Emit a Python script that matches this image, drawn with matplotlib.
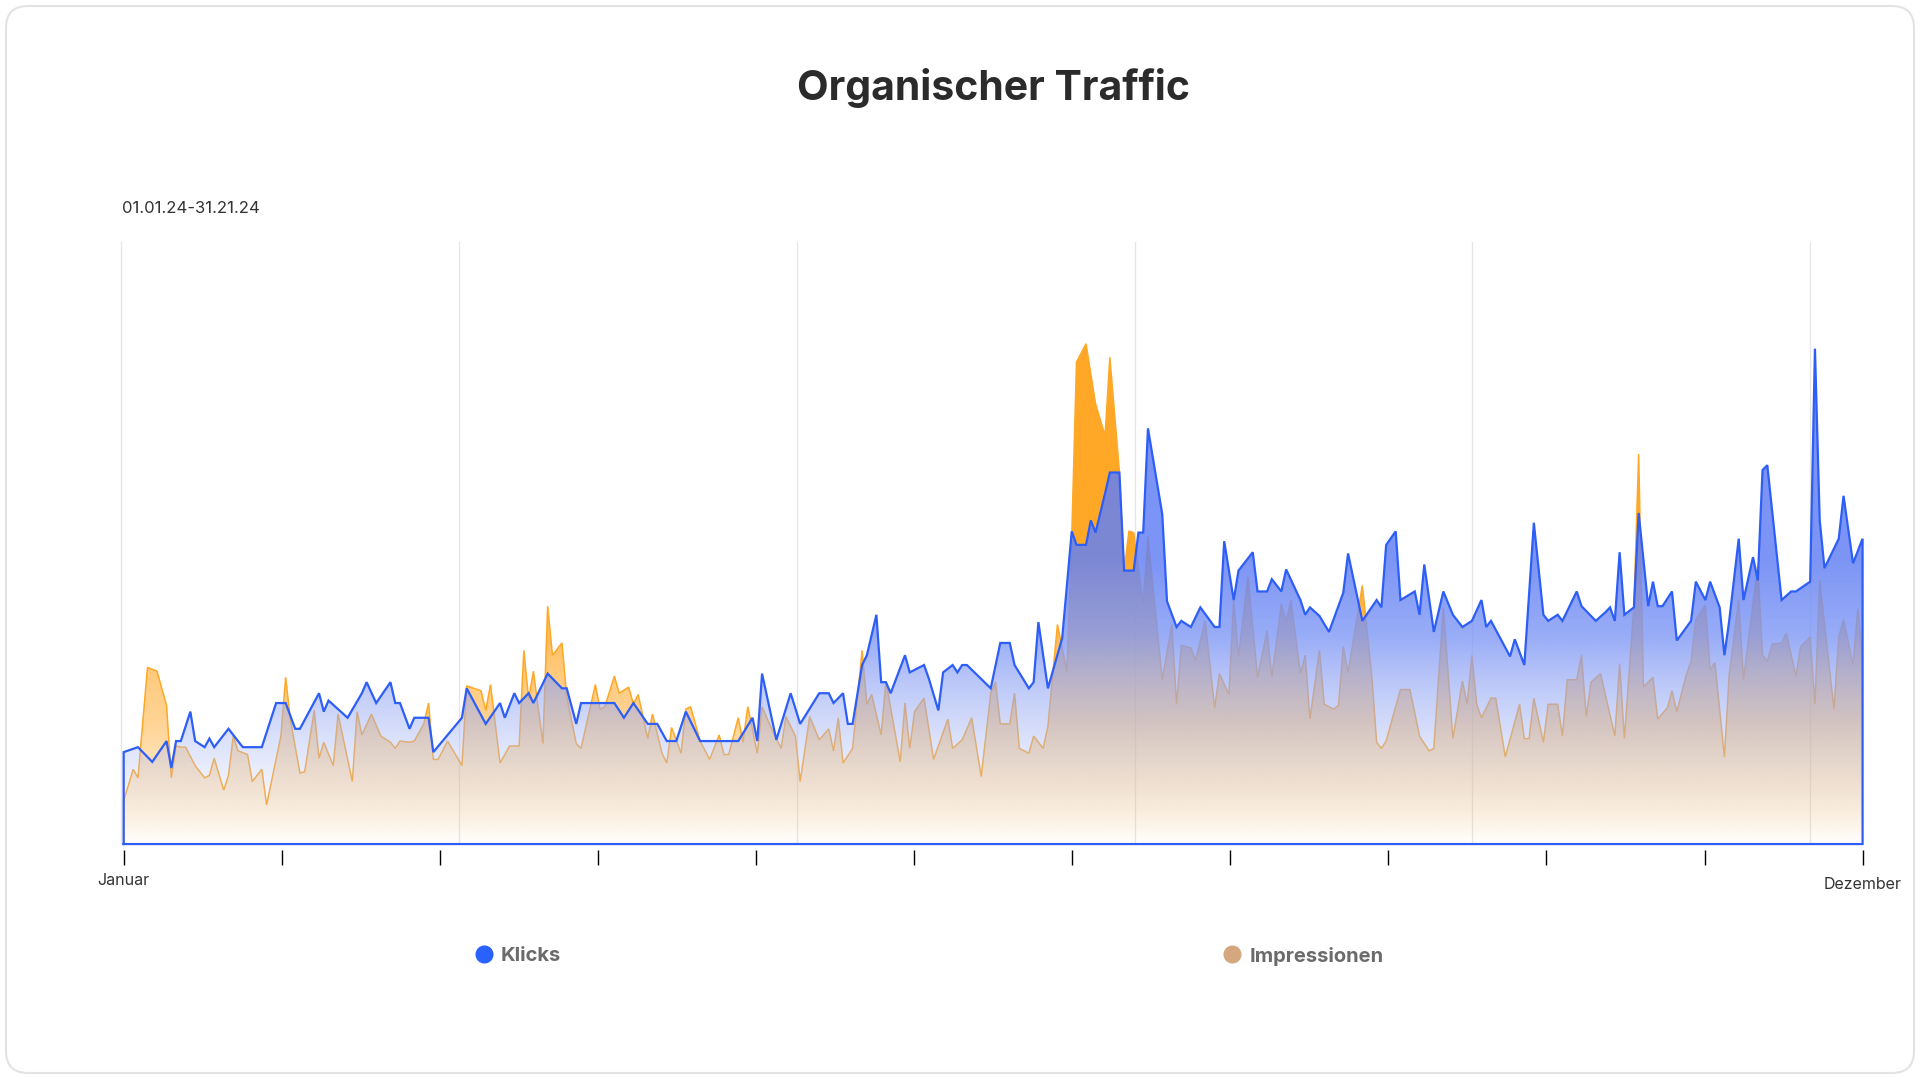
import numpy as np
import matplotlib.pyplot as plt
from matplotlib.patches import FancyBboxPatch
from matplotlib.lines import Line2D
from matplotlib.transforms import ScaledTranslation

plt.rcParams['font.family'] = ['Inter', 'DejaVu Sans']

# daily values (day of year, vertices)
klicks_days = [0, 3, 6, 9, 10, 11, 12, 14, 15, 17, 18, 19, 22, 25, 29, 32, 34, 36, 37, 41, 42, 43, 45, 47,
               50, 51, 53, 56, 57, 58, 60, 61, 64, 65, 71, 72, 76, 79, 80, 82, 83, 85, 86, 89, 92, 93,
               95, 96, 103, 105, 107, 110, 112, 114, 116, 118, 121, 129, 132, 133, 134, 137, 140, 142,
               146, 148, 149, 151, 152, 153, 155, 156, 158, 159, 160, 161, 164, 165, 168, 169, 171, 172,
               174, 175, 176, 177, 182, 184, 186, 187, 190, 191, 192, 194, 197, 199, 200, 202, 203, 204,
               206, 207, 209, 210, 212, 213, 214, 215, 218, 219, 221, 222, 224, 226, 229, 230, 231, 233,
               234, 237, 238, 240, 241, 243, 244, 247, 248, 249, 251, 253, 256, 257, 260, 263, 264, 265,
               267, 268, 271, 272, 273, 275, 277, 279, 281, 283, 285, 286, 287, 291, 292, 294, 296, 298,
               299, 301, 302, 305, 306, 309, 311, 312, 313, 314, 315, 317, 318, 320, 321, 322, 323, 325,
               326, 329, 330, 332, 333, 335, 336, 337, 339, 340, 342, 343, 344, 345, 348, 350, 351, 354,
               355, 356, 357, 360, 361, 363, 365]
klicks = [75, 79, 67, 84, 62, 84, 84, 108, 84, 79, 86, 79, 94, 79, 79, 115, 115, 94, 94, 123, 108, 117, 110, 103,
          123, 132, 115, 132, 115, 115, 94, 103, 103, 75, 103, 127, 98, 115, 103, 123, 115, 123, 115, 139, 127, 127,
          98, 115, 115, 103, 115, 98, 98, 84, 84, 108, 84, 84, 103, 84, 139, 85, 123, 98,
          123, 123, 115, 123, 98, 98, 146, 154, 187, 132, 132, 123, 154, 140, 146, 135, 109, 140,
          146, 140, 146, 146, 127, 164, 164, 146, 127, 132, 181, 127, 168, 255, 244, 244, 264, 254,
          286, 303, 303, 223, 223, 254, 254, 339, 269, 198, 177, 182, 177, 193, 177, 177, 247, 199,
          223, 238, 206, 206, 216, 206, 224, 199, 187, 193, 186, 173, 205, 237, 182, 199, 193, 244,
          255, 199, 206, 187, 228, 173, 206, 187, 177, 182, 199, 177, 182, 153, 167, 146, 262, 187,
          182, 187, 182, 206, 194, 182, 189, 193, 182, 238, 187, 193, 270, 194, 214, 194, 194, 206,
          166, 182, 214, 199, 214, 193, 154, 182, 249, 199, 234, 215, 305, 309, 199, 206, 206, 214,
          404, 264, 225, 249, 284, 229, 249]

impr_days = [0, 1, 2, 3, 5, 7, 9, 10, 11, 12, 13, 15, 17, 18, 19, 21, 22, 23, 24, 26, 27, 28, 29, 30, 33, 34,
             35, 37, 38, 40, 41, 42, 44, 45, 48, 49, 50, 52, 54, 56, 57, 58, 60, 61, 63, 64, 65, 66, 68, 71,
             72, 75, 76, 77, 79, 80, 81, 83, 84, 85, 86, 88, 89, 90, 92, 93, 95, 96, 99, 100, 101, 103, 104,
             106, 107, 108, 110, 111, 113, 114, 115, 117, 118, 119, 121, 123, 125, 126, 127, 129, 130, 131,
             133, 134, 136, 138, 139, 141, 142, 144, 146, 148, 149, 150, 151, 153, 155, 156, 157, 159, 160,
             163, 164, 165, 166, 168, 170, 173, 174, 176, 178, 180, 182, 183, 184, 186, 187, 188, 190, 191,
             193, 194, 196, 198, 199, 200, 202, 204, 206, 207, 209, 210, 211, 212, 214, 215, 218, 220, 221,
             222, 224, 225, 227, 229, 230, 232, 233, 234, 236, 238, 240, 241, 243, 244, 245, 247, 248, 249,
             251, 252, 254, 255, 256, 257, 260, 262, 263, 264, 265, 268, 270, 272, 274, 275, 277, 279, 281,
             282, 283, 284, 285, 287, 288, 290, 293, 294, 295, 296, 298, 299, 301, 302, 303, 305, 306, 307,
             308, 310, 313, 314, 315, 317, 318, 319, 321, 322, 324, 325, 326, 328, 329, 330, 332, 333, 334,
             336, 337, 339, 340, 343, 344, 345, 346, 348, 349, 351, 352, 354, 355, 356, 359, 360, 361, 363,
             364, 365]
impressionen = [36, 48, 61, 54, 144, 141, 113, 54, 80, 79, 79, 64, 54, 56, 70, 44, 56, 88, 76, 73, 51, 56, 61, 32, 88, 136,
                101, 58, 59, 109, 70, 83, 64, 106, 51, 108, 89, 106, 88, 83, 78, 84, 83, 84, 98, 115, 69, 69, 84, 64,
                129, 125, 109, 130, 66, 73, 80, 80, 158, 118, 141, 82, 194, 154, 164, 120, 82, 78, 130, 110, 112, 137, 123,
                128, 114, 122, 86, 106, 74, 66, 95, 74, 110, 112, 84, 69, 89, 73, 73, 103, 83, 112,
                74, 112, 94, 78, 104, 88, 51, 104, 85, 94, 76, 103, 66, 78, 158, 114, 122, 89, 133,
                67, 115, 78, 108, 119, 69, 102, 78, 85, 103, 55, 123, 132, 98, 98, 123, 78, 74, 88,
                78, 96, 179, 141, 250, 393, 408, 359, 333, 397, 304, 223, 255, 254, 196, 251, 134, 179, 114,
                162, 160, 150, 182, 111, 139, 122, 199, 153, 218, 136, 174, 136, 196, 181, 199, 139, 154, 102,
                158, 114, 110, 113, 161, 140, 211, 136, 83, 78, 84, 126, 126, 88, 76, 78, 193, 86, 133,
                114, 154, 114, 103, 119, 119, 71, 114, 86, 86, 119, 83, 114, 114, 88, 134, 134, 154, 104,
                132, 139, 88, 147, 86, 194, 318, 128, 136, 102, 111, 125, 108, 138, 149, 183, 195, 142, 148,
                71, 138, 199, 134, 227, 154, 149, 163, 164, 172, 137, 161, 169, 114, 215, 110, 169, 183, 146,
                192, 151]

grid_days = [-0.5, 70.4, 141.3, 212.2, 283.1, 354.0]
tick_days = np.linspace(0, 365, 12)
tick_labels = ['Januar'] + [''] * 10 + ['Dezember']
y_top = 491

fig = plt.figure(figsize=(19.2, 10.77), dpi=100)
fig.patch.set_facecolor('white')

card = FancyBboxPatch((0.06, 0.04), 19.08, 10.67, boxstyle='round,pad=0,rounding_size=0.22',
                      transform=fig.dpi_scale_trans, facecolor='none', edgecolor='#e3e3e3',
                      linewidth=1.5, zorder=-1)
fig.patches.append(card)

ax = fig.add_axes([0.06193, 0.2163, 0.90891, 0.559])
ax.set_facecolor('none')


def gradient_fill(x, y, stops, z):
    # stops: (height, r, g, b, alpha)
    st = np.array(stops, dtype=float)
    h = np.linspace(0, y_top, 600)
    img = np.zeros((600, 2, 4))
    for c in range(3):
        img[:, :, c] = (np.interp(h, st[:, 0], st[:, c + 1]) / 255.0)[:, None]
    img[:, :, 3] = np.interp(h, st[:, 0], st[:, 4])[:, None]
    poly = ax.fill_between(x, y, 0, facecolor='none', edgecolor='none')
    im = ax.imshow(img, extent=[x[0], x[-1], 0, y_top], origin='lower', aspect='auto',
                   interpolation='bilinear', zorder=z)
    im.set_clip_path(poly.get_paths()[0], transform=ax.transData)


for g in grid_days:
    ax.axvline(g, color='#e6e6e6', lw=0.9, zorder=0)

# Impressionen (below)
gradient_fill(impr_days, impressionen,
              [(0, 255, 167, 38, 0.0), (10, 255, 167, 38, 0.07), (20, 255, 167, 38, 0.13),
               (42, 255, 167, 38, 0.23), (69, 255, 167, 38, 0.34), (100, 255, 167, 38, 0.5),
               (140, 255, 167, 38, 0.6), (170, 255, 167, 38, 0.75), (210, 255, 167, 38, 0.9),
               (240, 255, 167, 38, 1.0), (491, 255, 167, 38, 1.0)], 1)
ax.plot([impr_days[0]] + impr_days, [0] + impressionen, color='#ffa726', lw=1.1, zorder=2,
        clip_on=False, solid_joinstyle='miter')

# Klicks (on top)
gradient_fill(klicks_days, klicks,
              [(0, 200, 208, 246, 0.0), (20, 200, 208, 246, 0.06), (42, 190, 200, 245, 0.2),
               (69, 178, 192, 246, 0.35), (100, 161, 178, 245, 0.48), (170, 126, 151, 245, 0.8),
               (230, 102, 131, 244, 0.85), (491, 95, 125, 244, 0.88)], 3)
ax.plot([klicks_days[0]] + klicks_days + [klicks_days[-1], klicks_days[0]],
        [0] + klicks + [0, 0], color='#2d5ef6', lw=1.6, zorder=4, clip_on=False,
        solid_joinstyle='miter')

ax.set_xlim(-1, 365.3)
ax.set_ylim(0, y_top)
ax.set_yticks([])
for s in ['left', 'right', 'top']:
    ax.spines[s].set_visible(False)
ax.spines['bottom'].set_position(('outward', 4))
ax.spines['bottom'].set_visible(False)
ax.set_xticks(tick_days, tick_labels)
ax.tick_params(axis='x', length=11, width=1.0, pad=6, labelsize=11.5, labelcolor='#333333')
for i, tk in enumerate(ax.xaxis.get_major_ticks()):
    tk.tick1line.set_color('#333333' if i in (0, 4, 8) else '#aaaaaa')
lbl = ax.get_xticklabels()[-1]
lbl.set_transform(lbl.get_transform() + ScaledTranslation(0, -0.04, fig.dpi_scale_trans))

fig.text(0.5172, 0.9071, 'Organischer Traffic', ha='center', va='baseline',
         fontsize=29.5, fontweight='bold', color='#2b2b2b')
fig.text(0.0635, 0.8022, '01.01.24-31.21.24', ha='left', va='baseline',
         fontsize=12, color='#333333')

# legend
legend_items = [('Klicks', '#2962ff', 0.2521), ('Impressionen', '#d4a77f', 0.6417)]
for name, col, lx in legend_items:
    fig.add_artist(Line2D([lx], [0.1142], marker='o', markersize=12, color=col,
                          transform=fig.transFigure, linestyle='none'))
    fig.text(lx + 0.0089, 0.1142, name, ha='left', va='center_baseline',
             fontsize=14.5, fontweight='bold', color='#6b6b6b')

fig.savefig('out.png', dpi=100, facecolor='white')
